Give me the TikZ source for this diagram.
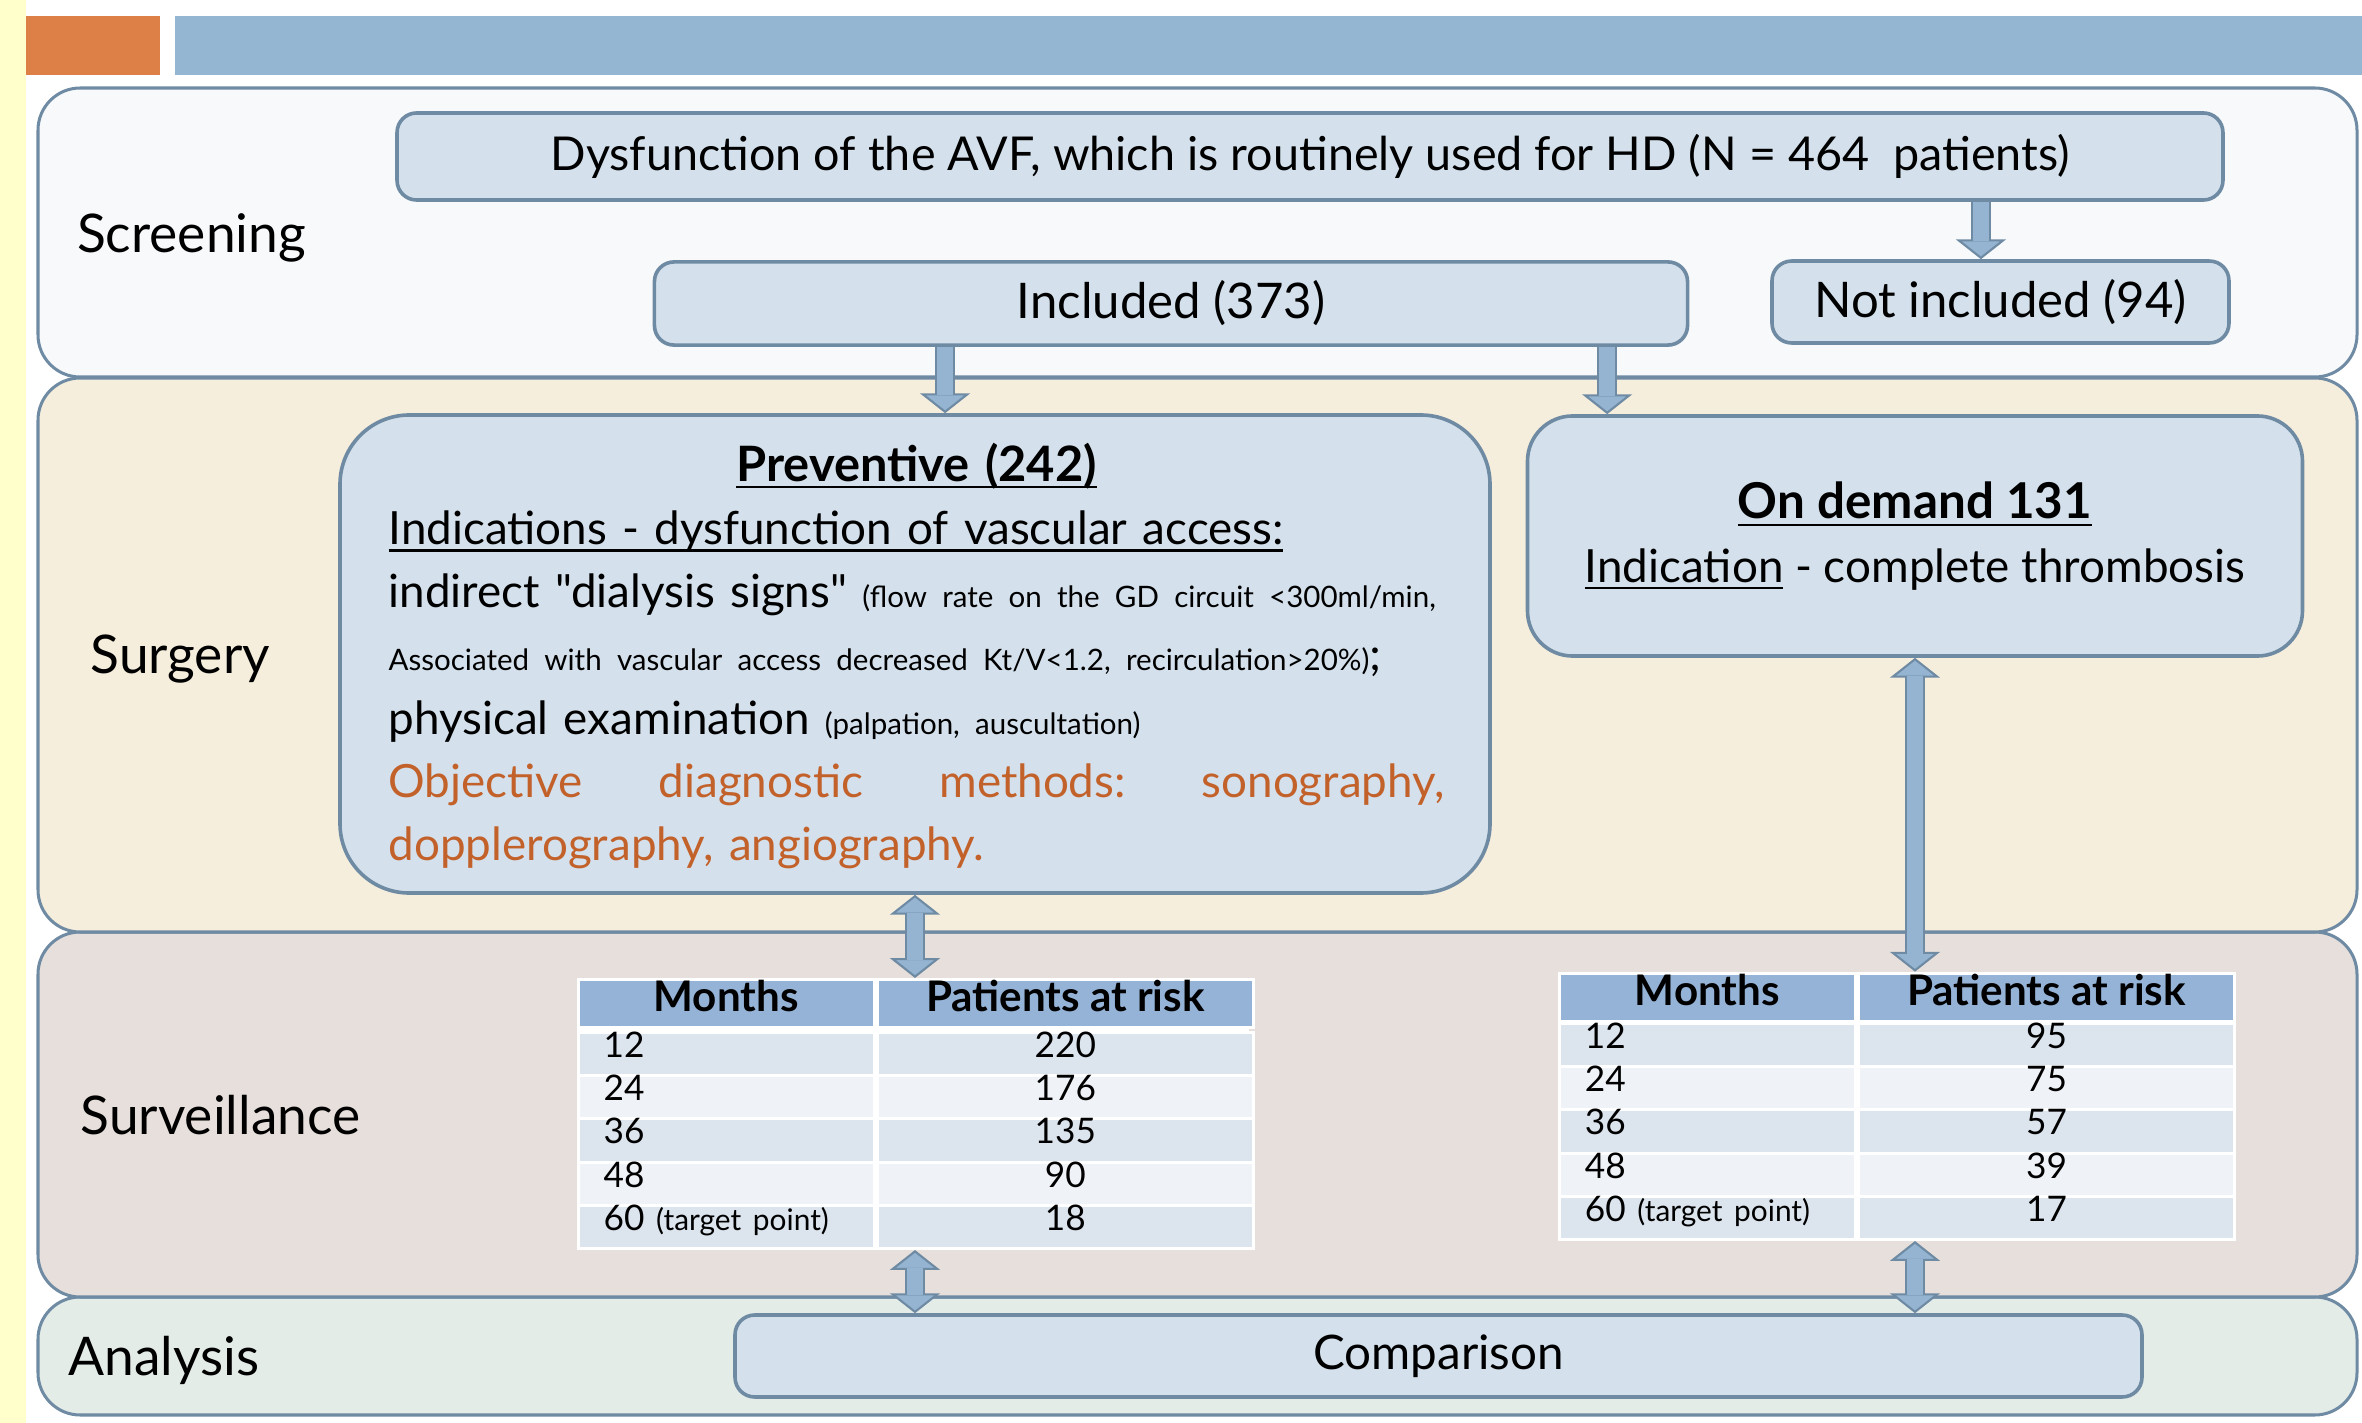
\documentclass[tikz,border=0pt]{standalone}
\usepackage{fontspec}
\setmainfont{Lato}[Ligatures=TeXOff]
\usetikzlibrary{positioning, arrows.meta}

\definecolor{stripyellow}{HTML}{FFFFCC}
\definecolor{barorange}{HTML}{DD8047}
\definecolor{barblue}{HTML}{94B6D2}
\definecolor{edge}{HTML}{6F8BA4}
\definecolor{screenfill}{HTML}{F7F9FB}
\definecolor{surgfill}{HTML}{F6EEDD}
\definecolor{survfill}{HTML}{E7DFDB}
\definecolor{anafill}{HTML}{E4ECE8}
\definecolor{boxfill}{HTML}{D4E1EC}
\definecolor{arrowfill}{HTML}{94B4D1}
\definecolor{headfill}{HTML}{95B3D7}
\definecolor{rowdark}{HTML}{DCE4EE}
\definecolor{rowlight}{HTML}{EFF2F7}
\definecolor{orangetxt}{HTML}{C3612B}

\newcommand{\undl}[1]{\leavevmode\setbox0=\hbox{#1}\rlap{\rule[-2.4pt]{\wd0}{0.8pt}}\box0\relax}
\newcommand{\fsmall}{\fontsize{9.8pt}{21pt}\selectfont}
\newcommand{\ftiny}{\fontsize{9.9pt}{11pt}\selectfont}

\tikzset{
  band/.style={draw=edge, line width=1pt, rounded corners=14pt},
  box/.style={draw=edge, fill=boxfill, line width=1.2pt, rounded corners=6.5pt, font=\fontsize{15.5pt}{18pt}\selectfont},
  stage/.style={anchor=base west, inner sep=0pt, font=\fontsize{17.7pt}{21pt}\selectfont},
  thead/.style={fill=headfill, draw=white, line width=1pt, minimum height=15.9pt, inner sep=0pt, text height=10.6pt, text depth=5.3pt, font=\bfseries\fontsize{14pt}{16pt}\selectfont},
  tcell/.style={draw=white, line width=1pt, minimum height=14.34pt, inner ysep=0pt, text height=8.3pt, text depth=6pt, font=\fontsize{11.7pt}{14pt}\selectfont},
  barrow/.style={draw=edge, line width=6.6pt, -{Triangle[width=16.6pt, length=6.6pt, line width=0.7pt, fill=arrowfill]},
    postaction={draw=arrowfill, line width=5.2pt, arrows=-, shorten >=6pt}},
  dbarrow/.style={draw=edge, line width=6.6pt, {Triangle[width=16.6pt, length=6.6pt, line width=0.7pt, fill=arrowfill]}-{Triangle[width=16.6pt, length=6.6pt, line width=0.7pt, fill=arrowfill]},
    postaction={draw=arrowfill, line width=5.2pt, arrows=-, shorten >=6pt, shorten <=6pt}}
}

\begin{document}
\begin{tikzpicture}[x=0.332pt, y=-0.332pt]
  \useasboundingbox (0,0) rectangle (2362,1423);
  \fill[white] (0,0) rectangle (2362,1423);
  \fill[stripyellow] (0,0) rectangle (25.5,1423);
  \fill[barorange] (25.5,16) rectangle (160,75);
  \fill[barblue] (175,16) rectangle (2362,75);

  % stage bands
  \draw[band, fill=anafill]    (38,1297) rectangle (2357,1415);
  \draw[band, fill=survfill]   (38,932)  rectangle (2357,1297);
  \draw[band, fill=surgfill]   (38,378)  rectangle (2357,932);
  \draw[band, fill=screenfill] (38,88)   rectangle (2357,377);

  \node[stage] (lscr)  at (76.5,253) {Screening};
  \node[stage] (lsurg) at (90,673)   {Surgery};
  \node[stage] (lsurv) at (80,1134)  {Surveillance};
  \node[stage] (lana)  at (68,1375)  {Analysis};

  % boxes
  \node[box, minimum width=606.2pt, minimum height=28.9pt] (dys) at (1310,156.5)
    {Dysfunction of the AVF, which is routinely used for HD (N = 464~ patients)};
  \node[box, font=\fontsize{16.3pt}{19pt}\selectfont, minimum width=343pt, minimum height=27.6pt] (inc) at (1171,303.5) {Included (373)};
  \node[box, font=\fontsize{16.3pt}{19pt}\selectfont, minimum width=151.7pt, minimum height=27.2pt] (notinc) at (2000.5,302) {Not included (94)};
  \node[box, rounded corners=23pt, minimum width=381.8pt, minimum height=158.7pt] (prev) at (915,654) {};
  \node[anchor=north west, inner sep=0pt, text width=350.6pt, align=left, font=\fontsize{15.2pt}{21pt}\selectfont] (prevtxt) at (388,442.3)
    {\rule{0pt}{12.5pt}\makebox[\linewidth][c]{\fontsize{16.2pt}{21pt}\selectfont\bfseries\undl{Preventive (242)}}\\
     \undl{Indications - dysfunction of vascular access:}\\
     \mbox{indirect "dialysis signs" {\fsmall (flow rate on the GD circuit <300ml/min,}}\\
     \mbox{{\fsmall Associated with vascular access decreased Kt/V<1.2, recirculation>20\%)};}\\
     \mbox{physical examination {\fsmall (palpation, auscultation)}}\\
     {\leavevmode\color{orangetxt}\hbox to\linewidth{Objective\hfill diagnostic\hfill methods:\hfill sonography,}}\\
     {\leavevmode\color{orangetxt}dopplerography, angiography.}};
  \node[box, rounded corners=15pt, minimum width=257.3pt, minimum height=79.7pt, align=center, font=\fontsize{15.2pt}{21pt}\selectfont] (ond) at (1915,536)
    {{\fontsize{16.4pt}{21pt}\selectfont\bfseries\undl{On demand 131}}\\ \undl{Indication} - complete thrombosis};
  \node[box, font=\fontsize{15.8pt}{18pt}\selectfont, minimum width=467.1pt, minimum height=27.2pt] (cmp) at (1438.5,1356) {Comparison};

  % table preventive
  \fill[white] (576.5,978) rectangle (1249,1247);
  \node[thead, minimum width=98.4pt, anchor=north west] (t1m) at (576.5,978) {Months};
  \node[thead, minimum width=124.8pt, right=0pt of t1m] (t1p) {Patients at risk};
  \foreach \m/\p/\c [count=\i] in {12/220/rowdark, 24/176/rowlight, 36/135/rowdark, 48/90/rowlight, 60 {\ftiny (target point)}/18/rowdark} {
    \node[tcell, fill=\c, text width=81.4pt, inner xsep=8.5pt, align=left, anchor=north west] (t1a\i) at ({576.5},{1031+43.2*(\i-1)}) {\m};
    \node[tcell, fill=\c, minimum width=124.8pt, right=0pt of t1a\i] (t1b\i) {\p};
  }

  % table on demand
  \fill[white] (1557.7,971.7) rectangle (2231,1238);
  \node[thead, minimum width=98.4pt, anchor=north west] (t2m) at (1557.7,971.7) {Months};
  \node[thead, minimum width=124.8pt, right=0pt of t2m] (t2p) {Patients at risk};
  \foreach \m/\p/\c [count=\i] in {12/95/rowdark, 24/75/rowlight, 36/57/rowdark, 48/39/rowlight, 60 {\ftiny (target point)}/17/rowdark} {
    \node[tcell, fill=\c, text width=81.4pt, inner xsep=8.5pt, align=left, anchor=north west] (t2a\i) at ({1557.7},{1022+43.2*(\i-1)}) {\m};
    \node[tcell, fill=\c, minimum width=124.8pt, right=0pt of t2a\i] (t2b\i) {\p};
  }

  % connectors
  \coordinate (nx) at ([xshift=-6.5pt]notinc.north);
  \coordinate (ia) at ([xshift=-75pt]inc.south);
  \coordinate (ib) at ([xshift=144.8pt]inc.south);
  \draw[barrow] (nx |- dys.south) -- (nx);
  \draw[barrow] (ia) -- (ia |- prev.north);
  \draw[barrow] (ib) -- (ib |- ond.north);
  \draw[dbarrow] (prev.south) -- (prev.south |- t1p.north);
  \draw[dbarrow] (ond.south) -- (ond.south |- t2p.north);
  \draw[dbarrow] (prev.south |- t1b5.south) -- (prev.south |- cmp.north);
  \draw[dbarrow] (ond.south |- t2b5.south) -- (ond.south |- cmp.north);
\end{tikzpicture}
\end{document}
